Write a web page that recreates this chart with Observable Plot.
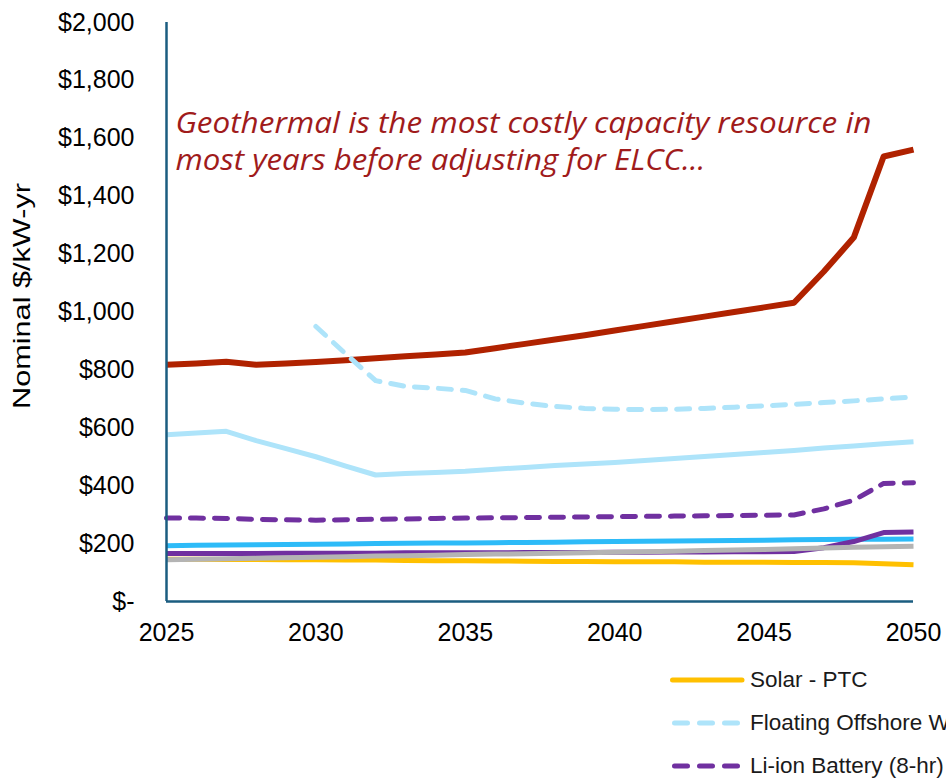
<!DOCTYPE html>
<html><head><meta charset="utf-8">
<script src="https://cdn.jsdelivr.net/npm/d3@7"></script>
<script src="https://cdn.jsdelivr.net/npm/@observablehq/plot@0.6"></script>
<style>
html,body{margin:0;padding:0;background:#fff;overflow:hidden;width:946px;height:778px}
#chart{position:relative;width:946px;height:778px;overflow:hidden}
#legend{position:absolute;left:670px;top:658px;font-family:"Liberation Sans",Arial,sans-serif;font-size:22.5px;color:#1a1a1a;white-space:nowrap}
.item{display:flex;align-items:center;height:43px}
.item svg{flex:none;margin-right:5px}
</style></head><body><div id="chart"><div id="legend"></div></div>
<script>
const years = [2025,2026,2027,2028,2029,2030,2031,2032,2033,2034,2035,2036,2037,2038,2039,2040,2041,2042,2043,2044,2045,2046,2047,2048,2049,2050];

const geothermal   = [818,822,828,818,822,827,833,840,847,853,860,875,890,905,920,936,952,968,984,1000,1016,1032,1140,1257,1537,1561];
const floatingOffshoreWind = [null,null,null,null,null,950,855,763,743,737,729,700,685,674,667,664,663,664,667,671,676,681,687,693,700,706];
const offshoreWind = [576,582,588,556,528,500,468,437,442,446,450,457,463,470,475,480,487,494,501,508,515,522,530,537,545,552];
const liIon8hr     = [288,288,287,284,282,281,282,284,285,287,288,289,290,291,292,293,294,295,296,297,298,299,320,350,408,410];
const onshoreWind  = [193,194,195,196,197,198,199,200,201,202,202,203,204,205,206,207,208,209,210,211,212,213,214,215,215,216];
const solarPTC     = [146,146,145,145,144,144,143,143,142,141,141,140,139,138,138,137,137,137,136,136,136,135,135,134,130,127];
const liIon4hr     = [166,166,166,166,167,167,167,167,168,168,168,168,169,169,169,170,170,171,171,172,172,173,186,207,238,240];
const gasCT        = [144,146,148,149,151,153,155,157,158,160,162,164,165,167,168,170,172,174,176,178,180,182,185,187,189,191];

const yTicks = [0,200,400,600,800,1000,1200,1400,1600,1800,2000];
const xTicks = [2025,2030,2035,2040,2045,2050];
const yLabel = "Nominal $/kW-yr";
const annotationLines = ["Geothermal is the most costly capacity resource in", "most years before adjusting for ELCC..."];
const annotationValues = [1617, 1489];
const annotationYear = 2025.3;

// draw order: first drawn is underneath
const series = [
  {name: "Geothermal", values: geothermal, color: "#B02200", dash: null, width: 6},
  {name: "Offshore Wind", values: offshoreWind, color: "#AEE4FA", dash: null, width: 5},
  {name: "Floating Offshore Wind", values: floatingOffshoreWind, color: "#AEE4FA", dash: "13,11", width: 5},
  {name: "Li-ion Battery (8-hr)", values: liIon8hr, color: "#7030A0", dash: "13,11", width: 5},
  {name: "Onshore Wind", values: onshoreWind, color: "#2DBBF8", dash: null, width: 5},
  {name: "Solar - PTC", values: solarPTC, color: "#FFC000", dash: null, width: 5},
  {name: "Li-ion Battery (4-hr)", values: liIon4hr, color: "#7030A0", dash: null, width: 5},
  {name: "Gas CT", values: gasCT, color: "#B4B4B4", dash: null, width: 5}
];
const legendNames = ["Solar - PTC", "Floating Offshore Wind", "Li-ion Battery (8-hr)"];

const rows = s => years.map((yr, i) => ({year: yr, value: s.values[i], name: s.name}));
const axisColor = "#1B5D80";
const fmt = d3.format(",");

const lineMarks = series.map(s => Plot.line(rows(s), {
  x: "year", y: "value",
  stroke: s.color, strokeWidth: s.width,
  strokeDasharray: s.dash || undefined,
  strokeLinecap: s.dash ? "round" : "butt",
  strokeLinejoin: "round"
}));

const annotation = annotationLines.map((t, i) => ({year: annotationYear, value: annotationValues[i], text: t}));

const plot = Plot.plot({
  width: 946, height: 660,
  marginLeft: 166, marginRight: 33, marginTop: 22, marginBottom: 59,
  style: {fontFamily: '"Liberation Sans", Arial, sans-serif', fontSize: "25px", color: "#000", background: "transparent"},
  x: {domain: [2025, 2050]},
  y: {domain: [0, 2000]},
  marks: [
    Plot.axisY({ticks: yTicks, tickSize: 0, tickPadding: 32, tickFormat: d => d === 0 ? "$-" : "$" + fmt(d), label: null, fontSize: 25}),
    Plot.axisX({ticks: xTicks, tickSize: 0, tickPadding: 22, tickFormat: d => String(d), label: null, fontSize: 25}),
    Plot.text([yLabel], {frameAnchor: "left", rotate: -90, dx: -144, dy: -16, text: d => d, fontSize: 24, fill: "#000", textAnchor: "middle"}),
    ...lineMarks,
    Plot.ruleX([2025], {y1: 0, y2: 2000, stroke: axisColor, strokeWidth: 2.5}),
    Plot.ruleY([0], {x1: 2025, x2: 2050, stroke: axisColor, strokeWidth: 2.5}),
    Plot.text(annotation, {x: "year", y: "value", text: "text", textAnchor: "start", lineAnchor: "bottom",
      fontFamily: '"Open Sans", sans-serif', fontStyle: "italic", fontSize: 29, fill: "#A01B1B"})
  ]
});
document.getElementById("chart").prepend(plot);

// stretch texts to the reference's lengths
const stretch = {[yLabel]: 226, [annotationLines[0]]: 696, [annotationLines[1]]: 530};
plot.querySelectorAll("text").forEach(t => {
  const L = stretch[t.textContent];
  if (L) { t.setAttribute("textLength", L); t.setAttribute("lengthAdjust", "spacingAndGlyphs"); }
});

const legend = document.getElementById("legend");
legendNames.forEach(n => {
  const s = series.find(d => d.name === n);
  const item = document.createElement("div");
  item.className = "item";
  const dash = s.dash ? `stroke-dasharray="13,12" stroke-linecap="round"` : `stroke-linecap="round"`;
  const x1 = s.dash ? 4.5 : 2.5, x2 = s.dash ? 70 : 72;
  item.innerHTML = `<svg width="75" height="10"><line x1="${x1}" x2="${x2}" y1="5" y2="5" stroke="${s.color}" stroke-width="5" ${dash}/></svg><span>${n}</span>`;
  legend.appendChild(item);
});
</script>
</body></html>
